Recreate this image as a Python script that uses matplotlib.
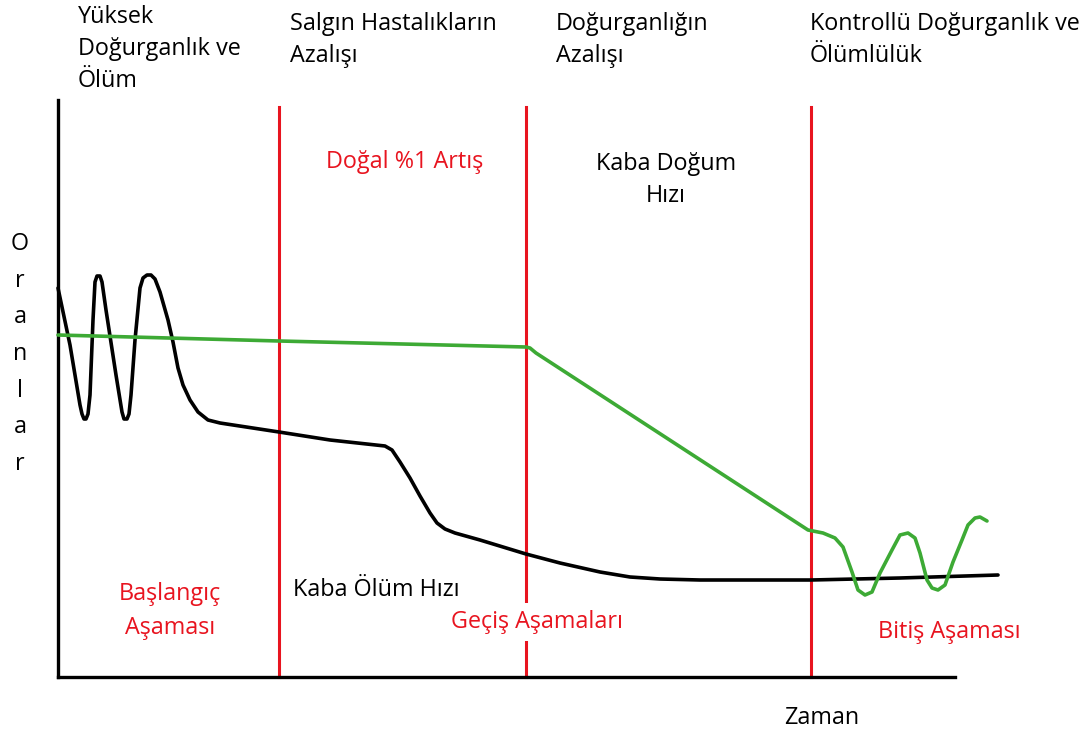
import numpy as np
import matplotlib
matplotlib.use('Agg')
import matplotlib.pyplot as plt

plt.rcParams['font.family'] = ['Open Sans', 'DejaVu Sans']

# olum hizi (siyah egri): zaman ve oran, resimden okunan noktalar
olum_x = [0, 12, 22, 24, 26, 28, 30, 32, 35, 37, 39, 42, 44, 48, 58, 64, 66, 69,
          71, 73, 77, 82, 85, 89, 93, 97, 102, 110, 115, 120, 125, 132, 140, 150,
          162, 221, 272, 327, 334, 342, 352, 362, 372, 379, 387, 397, 422, 468,
          502, 542, 572, 602, 642, 753, 842, 940]
olum_y = [389, 332, 272, 263, 258, 258, 263, 282, 357, 395, 401, 401, 395, 367,
          302, 265, 258, 258, 263, 282, 337, 389, 399, 402, 402, 398, 385, 357,
          335, 309, 292, 277, 265, 257, 254, 245, 237, 231, 227, 215, 199, 181,
          164, 154, 148, 144, 137, 123, 114, 105, 100, 98, 97, 97, 99, 102]

# dogum hizi (yesil egri)
dogum_x = [0, 221, 468, 472, 478, 750, 765, 777, 785, 794, 800, 807, 814, 822,
           834, 842, 850, 857, 862, 869, 874, 880, 887, 895, 904, 910, 917, 922,
           929]
dogum_y = [342, 336, 330, 329, 324, 147, 144, 139, 130, 105, 87, 82, 85, 104,
           127, 142, 144, 139, 124, 97, 89, 87, 92, 115, 137, 152, 159, 160, 156]

asama_x = [221, 468, 753]   # kirmizi dikey cizgiler

ust_basliklar = ["Yüksek\nDoğurganlık ve\nÖlüm", "Salgın Hastalıkların\nAzalışı",
                 "Doğurganlığın\nAzalışı", "Kontrollü Doğurganlık ve\nÖlümlülük"]
ust_x = [20, 232, 498, 752]
ust_y = [672, 665, 665, 665]

kirmizi = '#e8141f'
yesil = '#3daa35'

fig = plt.figure(figsize=(10.9, 7.38), dpi=100)
ax = fig.add_axes([58/1090, 61/738, 897/1090, 577/738])
ax.set_xlim(0, 897)
ax.set_ylim(0, 577)
for s in ['top', 'right']:
    ax.spines[s].set_visible(False)
ax.spines['left'].set_linewidth(2.4)
ax.spines['bottom'].set_linewidth(2.4)
ax.set_xticks([])
ax.set_yticks([])

for xv in asama_x:
    ax.plot([xv, xv], [0, 570], color=kirmizi, lw=2.2, zorder=1, clip_on=False)

ax.plot(olum_x, olum_y, color='black', lw=2.6, solid_joinstyle='round',
        solid_capstyle='round', zorder=3, clip_on=False)
ax.plot(dogum_x, dogum_y, color=yesil, lw=2.6, solid_joinstyle='round',
        solid_capstyle='round', zorder=3, clip_on=False)

fs = 16.8
for t, xv, yv in zip(ust_basliklar, ust_x, ust_y):
    ax.text(xv, yv, t, fontsize=fs, ha='left', va='top',
            linespacing=1.45, clip_on=False)

ax.text(347, 515, "Doğal %1 Artış", color=kirmizi, fontsize=fs, ha='center', va='center')
ax.text(608, 497, "Kaba Doğum\nHızı", color='black', fontsize=fs, ha='center',
        va='center', linespacing=1.4)
ax.text(112, 66, "Başlangıç\nAşaması", color=kirmizi, fontsize=fs, ha='center',
        va='center', linespacing=1.55)
ax.text(235, 87, "Kaba Ölüm Hızı", color='black', fontsize=fs, ha='left', va='center')
ax.text(479, 55, "Geçiş Aşamaları", color=kirmizi, fontsize=fs, ha='center', va='center',
        bbox=dict(facecolor='white', edgecolor='none', pad=5), zorder=4)
ax.text(891, 45, "Bitiş Aşaması", color=kirmizi, fontsize=fs, ha='center', va='center')
ax.text(764, -41, "Zaman", color='black', fontsize=fs, ha='center', va='center',
        clip_on=False)
ax.text(-38, 323, "\n".join("Oranlar"), color='black', fontsize=fs, ha='center',
        va='center', linespacing=1.7, clip_on=False)

plt.savefig('out.png', dpi=100)
plt.close()
